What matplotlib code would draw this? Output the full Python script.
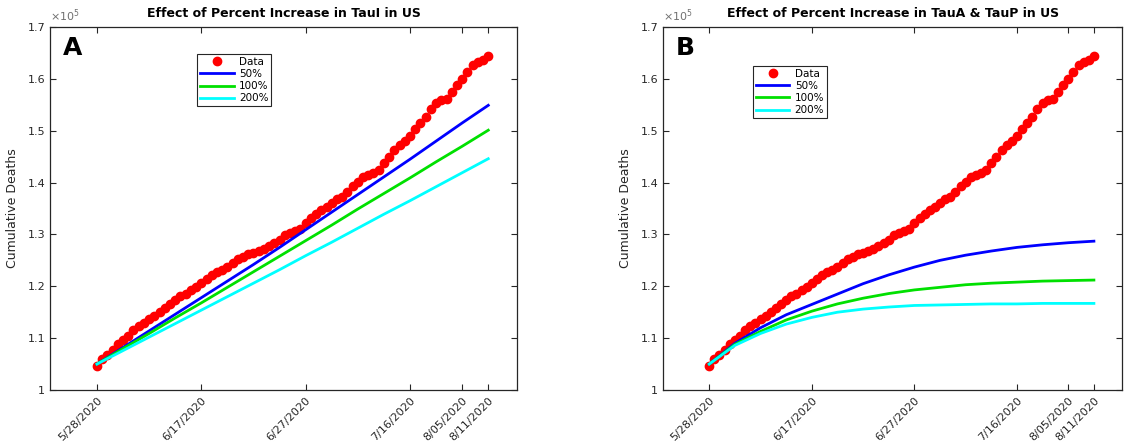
import numpy as np
import matplotlib
matplotlib.use('Agg')
import matplotlib.pyplot as plt

# Observed US cumulative deaths (x 1e5), one value per day from 5/28/2020
data_e5 = [1.047, 1.060, 1.068, 1.078, 1.088, 1.097, 1.105, 1.115, 1.123, 1.130,
           1.136, 1.142, 1.150, 1.158, 1.165, 1.174, 1.181, 1.186, 1.192, 1.199,
           1.206, 1.214, 1.222, 1.227, 1.232, 1.238, 1.245, 1.252, 1.257, 1.262,
           1.265, 1.268, 1.272, 1.278, 1.283, 1.290, 1.298, 1.302, 1.306, 1.310,
           1.322, 1.332, 1.340, 1.347, 1.352, 1.360, 1.368, 1.372, 1.382, 1.393,
           1.402, 1.410, 1.415, 1.419, 1.425, 1.437, 1.450, 1.462, 1.472, 1.480,
           1.489, 1.503, 1.514, 1.526, 1.541, 1.553, 1.559, 1.562, 1.575, 1.588,
           1.600, 1.613, 1.626, 1.632, 1.637, 1.645]
data_days = np.arange(len(data_e5))

# model runs, sampled every 5 days
model_days = [0, 5, 10, 15, 20, 25, 30, 35, 40, 45, 50, 55, 60, 65, 70, 75]

# panel A: percent increase in TauI
a_50 = [1.050, 1.082, 1.114, 1.146, 1.178, 1.210, 1.242, 1.275, 1.309, 1.343, 1.377, 1.411, 1.445, 1.480, 1.515, 1.549]
a_100 = [1.050, 1.080, 1.109, 1.139, 1.168, 1.198, 1.228, 1.258, 1.288, 1.318, 1.349, 1.379, 1.409, 1.440, 1.470, 1.501]
a_200 = [1.050, 1.076, 1.102, 1.128, 1.154, 1.180, 1.206, 1.232, 1.259, 1.285, 1.312, 1.339, 1.365, 1.392, 1.419, 1.446]

# panel B: percent increase in TauA & TauP
b_50 = [1.050, 1.090, 1.120, 1.145, 1.165, 1.185, 1.205, 1.222, 1.237, 1.250, 1.260, 1.268, 1.275, 1.280, 1.284, 1.287]
b_100 = [1.050, 1.088, 1.113, 1.135, 1.152, 1.166, 1.177, 1.186, 1.193, 1.198, 1.203, 1.206, 1.208, 1.210, 1.211, 1.212]
b_200 = [1.050, 1.086, 1.109, 1.127, 1.140, 1.150, 1.156, 1.160, 1.163, 1.164, 1.165, 1.166, 1.166, 1.167, 1.167, 1.167]

tick_days = [0, 20, 40, 60, 70, 75]
tick_labels = ['5/28/2020', '6/17/2020', '6/27/2020', '7/16/2020', '8/05/2020', '8/11/2020']
labels = ['50%', '100%', '200%']
colors = ['#0000ff', '#00e000', '#00ffff']

fig = plt.figure(figsize=(11.29, 4.45), dpi=100)
ax_a = fig.add_axes([0.0443, 0.1236, 0.4136, 0.8157])
ax_b = fig.add_axes([0.5873, 0.1236, 0.4066, 0.8157])

panels = [
    (ax_a, 'A', 'Effect of Percent Increase in TauI in US', [a_50, a_100, a_200], (0.315, 0.926)),
    (ax_b, 'B', 'Effect of Percent Increase in TauA & TauP in US', [b_50, b_100, b_200], (0.196, 0.893)),
]

grey = '#262626'
for ax, letter, title, runs, leg_pos in panels:
    ax.plot(data_days, data_e5, 'o', color='red', markersize=6, label='Data', zorder=2)
    for run, lab, c in zip(runs, labels, colors):
        ax.plot(model_days, run, '-', color=c, lw=2.0, label=lab, zorder=3)

    ax.set_xlim(-9, 80.5)
    ax.set_ylim(1.0, 1.7)
    ax.set_yticks([1.0, 1.1, 1.2, 1.3, 1.4, 1.5, 1.6, 1.7])
    ax.set_yticklabels(['1', '1.1', '1.2', '1.3', '1.4', '1.5', '1.6', '1.7'])
    ax.set_xticks(tick_days)
    ax.set_xticklabels(tick_labels, rotation=45, ha='right', va='top', rotation_mode='anchor')
    ax.tick_params(direction='in', top=True, right=True, length=4, width=0.8,
                   labelsize=8, colors=grey, labelcolor=grey)
    ax.tick_params(axis='x', pad=4)
    for s in ax.spines.values():
        s.set_color(grey)
        s.set_linewidth(0.9)

    ax.set_ylabel('Cumulative Deaths', fontsize=9, color=grey, labelpad=6)
    ax.set_title(title, fontsize=9, fontweight='bold', pad=7)
    ax.text(0.0, 1.008, r'$\times10^{5}$', transform=ax.transAxes, fontsize=8,
            color='#707070', va='bottom', ha='left')
    ax.text(0.028, 0.975, letter, transform=ax.transAxes, fontsize=18,
            fontweight='bold', va='top', ha='left')

    leg = ax.legend(loc='upper left', bbox_to_anchor=leg_pos, fontsize=7.5,
                    frameon=True, fancybox=False, edgecolor=grey, framealpha=1,
                    handlelength=3.2, borderpad=0.3, labelspacing=0.2,
                    handletextpad=0.5, borderaxespad=0)
    leg.get_frame().set_linewidth(0.8)

plt.savefig('out.png', dpi=100)
